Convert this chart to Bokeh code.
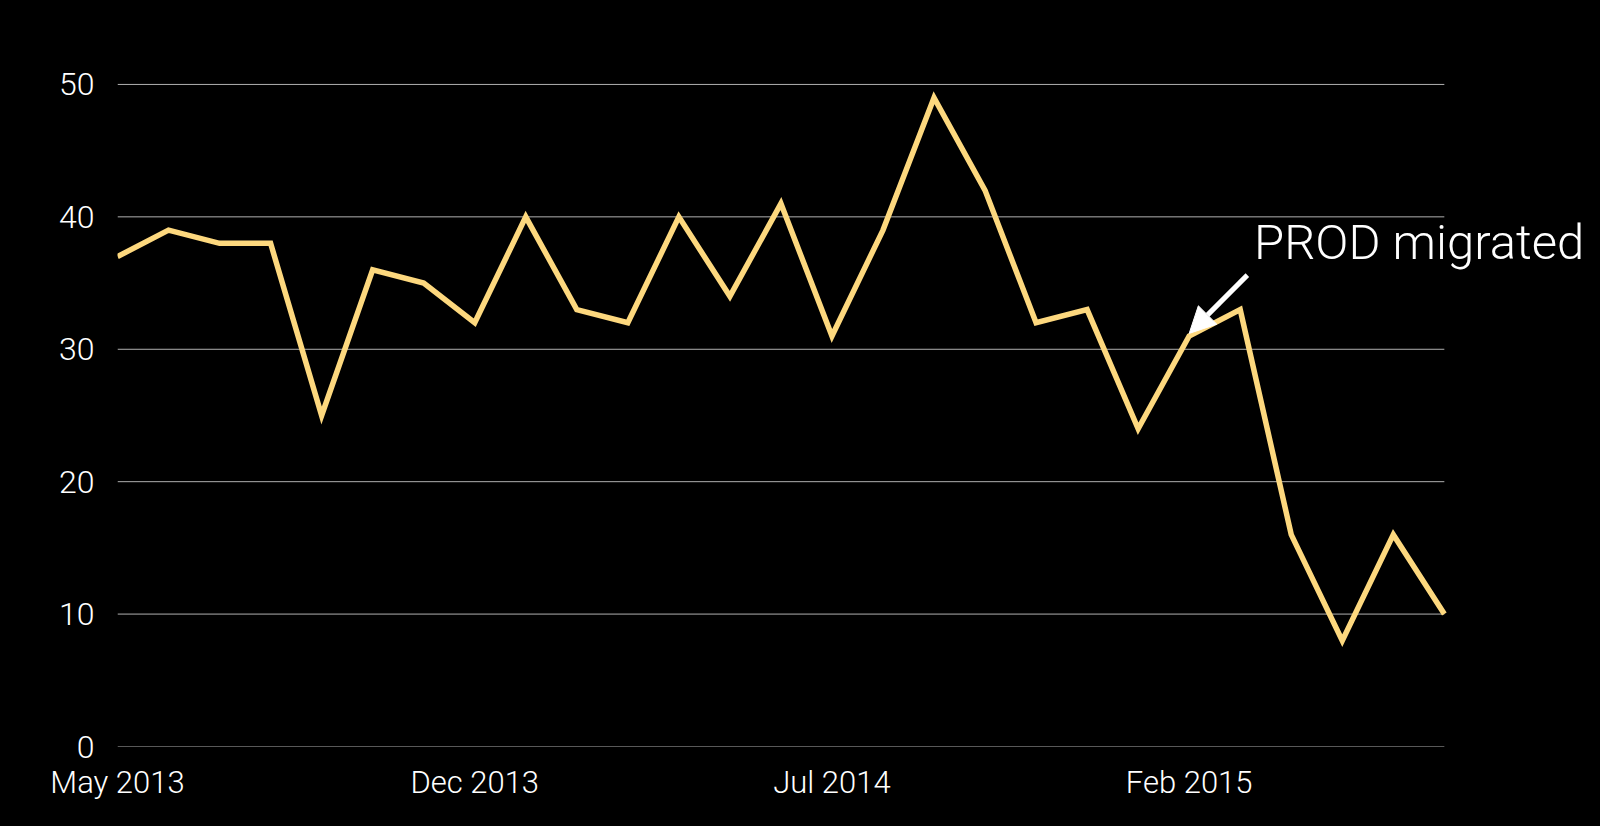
from bokeh.plotting import figure
from bokeh.models import ColumnDataSource, Range1d, FixedTicker, Arrow, NormalHead, Label
from bokeh.embed import file_html
from bokeh.resources import INLINE

months = ["May 2013", "Jun 2013", "Jul 2013", "Aug 2013", "Sep 2013", "Oct 2013", "Nov 2013",
          "Dec 2013", "Jan 2014", "Feb 2014", "Mar 2014", "Apr 2014", "May 2014", "Jun 2014",
          "Jul 2014", "Aug 2014", "Sep 2014", "Oct 2014", "Nov 2014", "Dec 2014", "Jan 2015",
          "Feb 2015", "Mar 2015", "Apr 2015", "May 2015", "Jun 2015", "Jul 2015"]
values = [37, 39, 38, 38, 25, 36, 35, 32, 40, 33, 32, 40, 34, 41, 31, 39, 49, 42, 32, 33, 24,
          31, 33, 16, 8, 16, 10]
shown_labels = ["May 2013", "Dec 2013", "Jul 2014", "Feb 2015"]
y_ticks = [0, 10, 20, 30, 40, 50]
annotation_text = "PROD migrated"
annotation_month = "Feb 2015"

FONT = "'Roboto Light', 'Helvetica Neue', Roboto, 'Liberation Sans', sans-serif"

idx = list(range(len(months)))
last = len(months) - 1
src = ColumnDataSource(dict(x=idx, y=values))
grid_src = ColumnDataSource(dict(x0=[0] * len(y_ticks), x1=[last] * len(y_ticks), y=y_ticks))

p = figure(width=1600, height=826, output_backend="svg", toolbar_location=None,
           x_range=Range1d(0, last + 3.06), y_range=Range1d(0, 56.34),
           min_border_left=117, min_border_right=0, min_border_top=0, min_border_bottom=80)
p.background_fill_color = "black"
p.border_fill_color = "black"
p.outline_line_color = None
p.outline_line_alpha = 0

p.segment(x0="x0", x1="x1", y0="y", y1="y", source=grid_src, line_color="#b0b0b0", line_width=1)
p.line("x", "y", source=src, line_color="#FDD87E", line_width=5.5, line_join="miter")

tick_pos = [months.index(m) for m in shown_labels]
p.xaxis.ticker = FixedTicker(ticks=tick_pos)
p.xaxis.major_label_overrides = {t: m for t, m in zip(tick_pos, shown_labels)}
p.yaxis.ticker = FixedTicker(ticks=y_ticks)
for ax in (p.xaxis, p.yaxis):
    ax.axis_line_color = None
    ax.major_tick_line_color = None
    ax.minor_tick_line_color = None
    ax.major_tick_out = 0
    ax.major_tick_in = 0
    ax.major_label_text_color = "white"
    ax.major_label_text_font = FONT
    ax.major_label_text_font_size = "31px"
p.yaxis.major_label_text_font_size = "32px"
p.yaxis.major_label_standoff = 23
p.xaxis.major_label_standoff = 17

p.xgrid.grid_line_color = None
p.ygrid.grid_line_color = None

ai = months.index(annotation_month)
p.add_layout(Arrow(end=NormalHead(size=26, fill_color="white", line_color="white", line_width=1),
                   x_start=ai + 1.14, y_start=35.6, x_end=ai, y_end=values[ai] + 0.2,
                   line_color="white", line_width=5))
p.add_layout(Label(x=ai + 1.27, y=38.1, text=annotation_text, text_color="white",
                   text_font=FONT, text_font_size="49px", text_baseline="alphabetic"))

html = file_html(p, INLINE)
html = html.replace("<head>", "<head><style>html,body{margin:0;padding:0;background:#000;overflow:hidden}</style>", 1)
open("out.html", "w").write(html)
